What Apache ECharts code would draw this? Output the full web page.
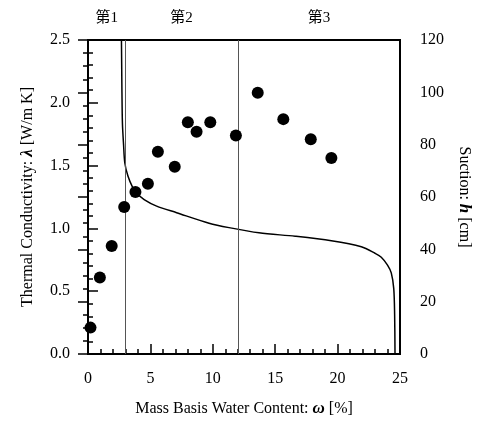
<!DOCTYPE html>
<html>
<head>
<meta charset="utf-8">
<script src="https://cdn.jsdelivr.net/npm/echarts@6/dist/echarts.min.js"></script>
<style>
html,body{margin:0;padding:0;background:#fff;}
#chart{width:481px;height:423px;}
</style>
</head>
<body>
<div id="chart"></div>
<script>
// measured thermal conductivity (water content %, lambda W/mK)
var waterContent = [0.2, 0.95, 1.9, 2.9, 3.8, 4.8, 5.6, 6.95, 8.0, 8.7, 9.8, 11.85, 13.6, 15.65, 17.85, 19.5];
var lambdaValues = [0.21, 0.61, 0.86, 1.17, 1.29, 1.355, 1.61, 1.49, 1.845, 1.77, 1.845, 1.74, 2.08, 1.87, 1.71, 1.56];

// suction curve
var curveW = [2.68, 2.7, 2.72, 2.76, 2.85, 2.95, 3.2, 3.55, 3.9, 4.5, 5.5, 7.1, 9.7, 11.3, 13.7, 16.6, 19.5, 21.9, 23.0, 23.5, 24.0, 24.3, 24.5, 24.57, 24.6];
var curveH = [120, 110, 100, 88, 80, 73, 68, 64, 61.5, 59, 56.5, 54, 50, 48.3, 46.3, 45, 43.3, 41, 38.5, 37, 34, 31, 25, 15, 0];

var zoneBounds = [3, 12];
var zoneCenters = [1.5, 7.5, 18.5];
var zoneLabels = ['第1', '第2', '第3'];

var serif = "'Liberation Serif', 'Times New Roman', serif";
var cjk = "'Liberation Serif', 'Noto Sans CJK SC', serif";

var scatterData = [];
for (var i = 0; i < waterContent.length; i++) {
	scatterData.push([waterContent[i], lambdaValues[i]]);
}
var curveData = [];
for (var j = 0; j < curveW.length; j++) {
	curveData.push([curveW[j], curveH[j]]);
}

var myChart = echarts.init(document.getElementById('chart'), null, {renderer: 'canvas'});

var tickCommon = {inside: true, length: 10, lineStyle: {color: '#000', width: 1.5}};
var minorCommon = {show: true, length: 5, lineStyle: {color: '#000', width: 1.5}};
var axisLineCommon = {show: true, lineStyle: {color: '#000', width: 2}};
var labelFont = {fontFamily: serif, fontSize: 16, color: '#000'};

var option = {
	animation: false,
	backgroundColor: '#fff',
	grid: {
		left: 88, right: 79, top: 40, bottom: 69,
		show: true, borderColor: '#000', borderWidth: 2
	},
	xAxis: [
		{
			type: 'value', min: 0, max: 25, interval: 5, position: 'bottom',
			axisLine: axisLineCommon,
			axisTick: tickCommon,
			minorTick: Object.assign({splitNumber: 5}, minorCommon),
			splitLine: {show: false},
			axisLabel: Object.assign({margin: 17}, labelFont),
			name: 'Mass Basis Water Content: {b|ω} [%]',
			nameLocation: 'middle', nameGap: 46,
			nameTextStyle: {
				fontFamily: serif, fontSize: 16, color: '#000',
				rich: {b: {fontFamily: serif, fontSize: 17, fontWeight: 'bold', fontStyle: 'italic'}}
			}
		},
		{
			type: 'value', min: 0, max: 25, interval: 0.5, position: 'top',
			axisLine: {show: false}, axisTick: {show: false}, splitLine: {show: false},
			axisLabel: {
				margin: 14, fontFamily: cjk, fontSize: 15, color: '#000',
				formatter: function (v) {
					for (var k = 0; k < zoneCenters.length; k++) {
						if (Math.abs(v - zoneCenters[k]) < 1e-6) return zoneLabels[k];
					}
					return '';
				}
			}
		}
	],
	yAxis: [
		{
			type: 'value', min: 0, max: 2.5, interval: 0.5, position: 'left',
			axisLine: axisLineCommon,
			axisTick: tickCommon,
			minorTick: Object.assign({splitNumber: 5}, minorCommon),
			splitLine: {show: false},
			axisLabel: Object.assign({margin: 18, formatter: function (v) { return v.toFixed(1); }}, labelFont),
			name: 'Thermal Conductivity: {b|λ} [W/m K]',
			nameLocation: 'middle', nameGap: 52, nameRotate: 90,
			nameTextStyle: {
				fontFamily: serif, fontSize: 16, color: '#000',
				rich: {b: {fontFamily: serif, fontSize: 17, fontWeight: 'bold', fontStyle: 'italic'}}
			}
		},
		{
			type: 'value', min: 0, max: 120, interval: 20, position: 'right',
			axisLine: axisLineCommon,
			axisTick: tickCommon,
			minorTick: Object.assign({splitNumber: 4}, minorCommon),
			splitLine: {show: false},
			axisLabel: Object.assign({margin: 20}, labelFont),
			name: 'Suction: {b|h} [cm]',
			nameLocation: 'middle', nameGap: 56, nameRotate: -90,
			nameTextStyle: {
				fontFamily: serif, fontSize: 16, color: '#000',
				rich: {b: {fontFamily: serif, fontSize: 17, fontWeight: 'bold', fontStyle: 'italic'}}
			}
		}
	],
	series: [
		{
			name: 'lambda',
			type: 'scatter',
			xAxisIndex: 0, yAxisIndex: 0,
			symbol: 'circle', symbolSize: 12,
			itemStyle: {color: '#000', opacity: 1},
			data: scatterData,
			z: 5
		},
		{
			name: 'suction',
			type: 'line',
			xAxisIndex: 0, yAxisIndex: 1,
			showSymbol: false, smooth: 0.3,
			lineStyle: {color: '#000', width: 1.5},
			data: curveData,
			markLine: {
				silent: true, symbol: 'none',
				label: {show: false},
				lineStyle: {color: '#555', width: 1, type: 'solid'},
				data: zoneBounds.map(function (b) { return {xAxis: b}; })
			}
		}
	]
};
myChart.setOption(option);
</script>
</body>
</html>
